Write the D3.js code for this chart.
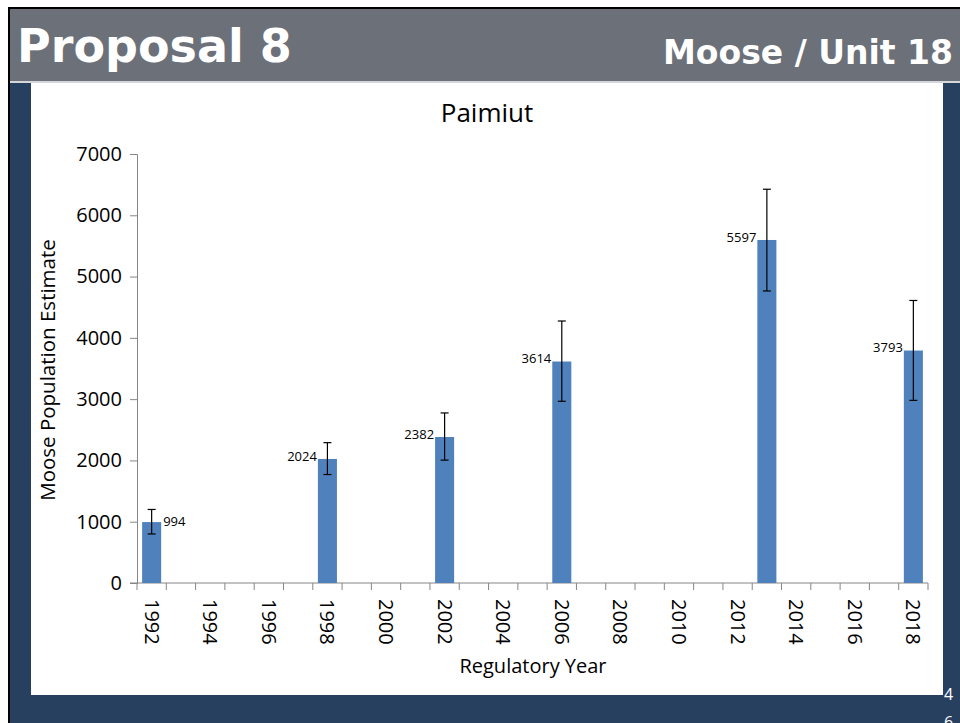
<!DOCTYPE html>
<html>
<head>
<meta charset="utf-8">
<script src="https://cdn.jsdelivr.net/npm/d3@7"></script>
<style>
  body { margin: 0; background: #fff; }
  svg { display: block; }
  text { font-family: "Open Sans", sans-serif; }
  .head { font-family: "DejaVu Sans", sans-serif; font-weight: bold; }
</style>
</head>
<body>
<svg width="960" height="723"></svg>
<script>
const svg = d3.select('svg');

const width = +svg.attr('width');
const height = +svg.attr('height');

// Categories on the x axis (one per regulatory year)
const years = [1992, 1993, 1994, 1995, 1996, 1997, 1998, 1999, 2000, 2001, 2002, 2003, 2004, 2005,
               2006, 2007, 2008, 2009, 2010, 2011, 2012, 2013, 2014, 2015, 2016, 2017, 2018];
const tickYears = [1992, 1994, 1996, 1998, 2000, 2002, 2004, 2006, 2008, 2010, 2012, 2014, 2016, 2018];

// Survey years and population estimates
const surveyYears = [1992, 1998, 2002, 2006, 2013, 2018];
const estimates = [994, 2024, 2382, 3614, 5597, 3793];
const errLow = [800, 1770, 2005, 2965, 4765, 2980];
const errHigh = [1200, 2290, 2775, 4275, 6425, 4610];

const yTicks = [0, 1000, 2000, 3000, 4000, 5000, 6000, 7000];

const navy = '#27405f';
const headGrey = '#6b7079';
const barBlue = '#4f81bd';

/******************
*** SLIDE FRAME ***
*******************/
svg.append('rect').attr('x', 0).attr('y', 0).attr('width', width).attr('height', height).attr('fill', '#fff');
svg.append('rect').attr('x', 8).attr('y', 7).attr('width', width - 8).attr('height', height - 7).attr('fill', '#000');
svg.append('rect').attr('x', 10).attr('y', 9).attr('width', width - 10).attr('height', 72).attr('fill', headGrey);
svg.append('rect').attr('x', 10).attr('y', 81).attr('width', width - 10).attr('height', 2).attr('fill', '#d4d6d9');
svg.append('rect').attr('x', 10).attr('y', 83).attr('width', width - 10).attr('height', height - 83).attr('fill', navy);
svg.append('rect').attr('x', 31).attr('y', 83).attr('width', 912).attr('height', 612).attr('fill', '#fff');

svg.append('text')
    .attr('class', 'head')
    .attr('x', 17).attr('y', 62)
    .attr('fill', '#fff')
    .style('font-size', '46px')
    .text('Proposal 8');

svg.append('text')
    .attr('class', 'head')
    .attr('x', 953).attr('y', 64)
    .attr('text-anchor', 'end')
    .attr('fill', '#fff')
    .style('font-size', '33px')
    .text('Moose / Unit 18');

// page number (cut off at the bottom)
svg.append('text').attr('x', 944).attr('y', 700).attr('fill', '#fff').style('font-size', '16px').text('4');
svg.append('text').attr('x', 944).attr('y', 728).attr('fill', '#fff').style('font-size', '16px').text('6');

/******************
***** CHART *******
*******************/
const margin = { left: 137, right: 32, top: 154, bottom: 140 };
const innerWidth = width - margin.left - margin.right;
const innerHeight = height - margin.top - margin.bottom;

const g = svg.append('g').attr('transform', `translate(${margin.left},${margin.top})`);

const xScale = d3.scaleBand()
    .domain(years)
    .range([0, innerWidth])
    .paddingInner(0.35)
    .paddingOuter(0.175);

const xEdge = d3.scaleBand().domain(years).range([0, innerWidth]);

const yScale = d3.scaleLinear()
    .domain([0, 7000])
    .range([innerHeight, 0]);

// Y axis
const yAxis = d3.axisLeft(yScale).tickValues(yTicks).tickFormat(d3.format('d')).tickSize(7).tickPadding(8);
const yAxisG = g.append('g').call(yAxis);
yAxisG.select('.domain').attr('stroke', '#868686');
yAxisG.selectAll('.tick line').attr('stroke', '#868686');
yAxisG.selectAll('.tick text').attr('fill', '#000').style('font-size', '20px').style('font-family', '"Open Sans", sans-serif');

// X axis: ticks between categories
const xAxisG = g.append('g').attr('transform', `translate(0,${innerHeight})`);
xAxisG.append('line')
    .attr('x1', -7).attr('x2', innerWidth)
    .attr('stroke', '#868686');
xAxisG.selectAll('.xtick')
    .data(years.concat([null]))
    .enter().append('line')
    .attr('class', 'xtick')
    .attr('x1', (d, i) => i < years.length ? xEdge(d) : innerWidth)
    .attr('x2', (d, i) => i < years.length ? xEdge(d) : innerWidth)
    .attr('y1', 0).attr('y2', 7)
    .attr('stroke', '#868686');

xAxisG.selectAll('.xlabel')
    .data(tickYears)
    .enter().append('text')
    .attr('class', 'xlabel')
    .attr('transform', d => `translate(${xEdge(d) + xEdge.bandwidth() / 2},${16}) rotate(90)`)
    .attr('dy', '0.35em')
    .attr('fill', '#000')
    .style('font-size', '20px')
    .text(d => d);

// Bars
const bars = surveyYears.map((yr, i) => ({ yr, v: estimates[i], lo: errLow[i], hi: errHigh[i] }));

g.selectAll('rect.bar')
    .data(bars)
    .enter().append('rect')
    .attr('class', 'bar')
    .attr('x', d => xScale(d.yr))
    .attr('width', xScale.bandwidth())
    .attr('y', d => yScale(d.v))
    .attr('height', d => innerHeight - yScale(d.v))
    .attr('fill', barBlue);

// Error bars
const cx = d => xScale(d.yr) + xScale.bandwidth() / 2;
const err = g.selectAll('g.err').data(bars).enter().append('g').attr('class', 'err')
    .attr('stroke', '#000').attr('stroke-width', 1.2);
err.append('line').attr('x1', cx).attr('x2', cx).attr('y1', d => yScale(d.lo)).attr('y2', d => yScale(d.hi));
err.append('line').attr('x1', d => cx(d) - 4).attr('x2', d => cx(d) + 4).attr('y1', d => yScale(d.hi)).attr('y2', d => yScale(d.hi));
err.append('line').attr('x1', d => cx(d) - 4).attr('x2', d => cx(d) + 4).attr('y1', d => yScale(d.lo)).attr('y2', d => yScale(d.lo));

// Data labels
g.selectAll('text.val')
    .data(bars)
    .enter().append('text')
    .attr('class', 'val')
    .attr('x', (d, i) => i === 0 ? xScale(d.yr) + xScale.bandwidth() + 2 : xScale(d.yr) - 1)
    .attr('y', (d, i) => yScale(d.v) - (i === 0 ? 1 : 3))
    .attr('dy', '0.35em')
    .attr('text-anchor', (d, i) => i === 0 ? 'start' : 'end')
    .attr('fill', '#000')
    .style('font-size', '13px')
    .text(d => d.v);

// Titles
svg.append('text')
    .attr('x', 487).attr('y', 122)
    .attr('text-anchor', 'middle')
    .attr('fill', '#000')
    .style('font-size', '26px')
    .text('Paimiut');

svg.append('text')
    .attr('transform', 'translate(55,370) rotate(-90)')
    .attr('text-anchor', 'middle')
    .attr('fill', '#000')
    .style('font-size', '20.5px')
    .text('Moose Population Estimate');

svg.append('text')
    .attr('x', 533).attr('y', 673)
    .attr('text-anchor', 'middle')
    .attr('fill', '#000')
    .style('font-size', '20px')
    .text('Regulatory Year');
</script>
</body>
</html>
